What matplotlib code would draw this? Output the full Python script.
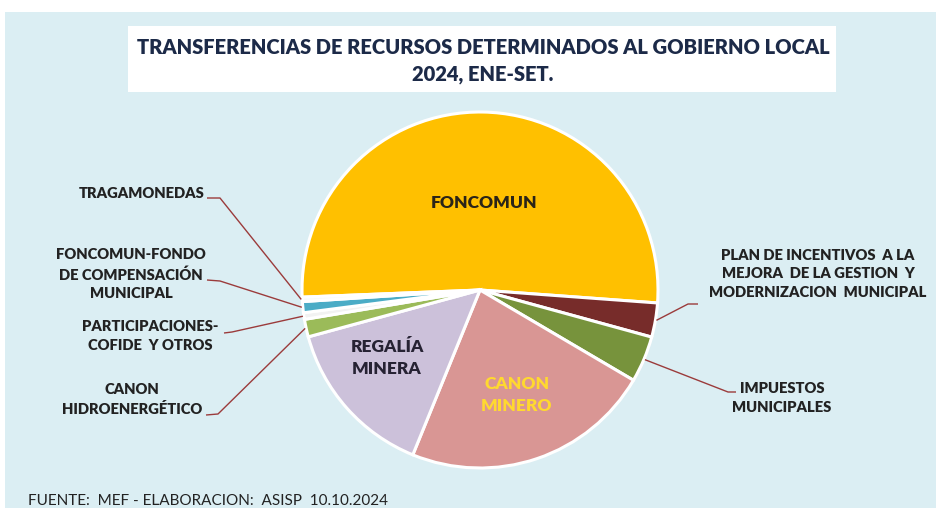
import numpy as np
import matplotlib.pyplot as plt
from matplotlib.patches import Rectangle

plt.rcParams['font.family'] = ['Lato', 'DejaVu Sans']

W, H = 936, 508

# pie data (percent of total transfers), clockwise from FONCOMUN
names = ["FONCOMUN",
         "PLAN DE INCENTIVOS  A LA\nMEJORA  DE LA GESTION  Y\nMODERNIZACION  MUNICIPAL",
         "IMPUESTOS\nMUNICIPALES",
         "CANON\nMINERO",
         "REGALÍA\nMINERA",
         "CANON\nHIDROENERGÉTICO",
         "PARTICIPACIONES-\nCOFIDE  Y OTROS",
         "FONCOMUN-FONDO\nDE COMPENSACIÓN\nMUNICIPAL",
         "TRAGAMONEDAS"]
shares = [51.8, 3.1, 4.2, 22.7, 14.6, 1.6, 0.6, 1.0, 0.4]
colors = ['#ffc000', '#772c2a', '#77933c', '#d99694', '#ccc1da',
          '#9bbb59', '#f2f2f2', '#4bacc6', '#fafafa']

fig = plt.figure(figsize=(W / 100, H / 100), dpi=100)
fig.patch.set_facecolor('white')
ax = fig.add_axes([0, 0, 1, 1])

# light blue chart area + white title box
ax.add_patch(Rectangle((5, 0), W - 5, H - 12, facecolor='#dbeef3', edgecolor='none', zorder=0))
ax.add_patch(Rectangle((128, H - 92), 708, 66, facecolor='white', edgecolor='none', zorder=1))

cx, cy, r = 480, H - 290, 178
wedges, _ = ax.pie(shares, colors=colors, startangle=182.3, counterclock=False,
                   center=(cx, cy), radius=r, frame=True,
                   wedgeprops=dict(edgecolor='white', linewidth=2.2))
for w in wedges:
    w.set_zorder(2)

ax.set_xlim(0, W)
ax.set_ylim(0, H)
ax.set_aspect('auto')
ax.axis('off')

ax.text(483, H - 47, "TRANSFERENCIAS DE RECURSOS DETERMINADOS AL GOBIERNO LOCAL",
        ha='center', va='center', fontsize=14.5, fontweight='heavy', color='#1c2a48', zorder=3)
ax.text(483, H - 75, "2024, ENE-SET.", ha='center', va='center', fontsize=14.5,
        fontweight='heavy', color='#1c2a48', zorder=3)

# labels inside the big slices
ax.text(484, H - 203, names[0], ha='center', va='center', fontsize=12.5,
        fontweight='heavy', color='#2a2418', zorder=3)
ax.text(387, H - 358, names[4], ha='center', va='center', fontsize=12.5,
        fontweight='heavy', color='#262233', linespacing=1.5, zorder=3)
ax.text(517, H - 395, names[3], ha='center', va='center', fontsize=12.5,
        fontweight='heavy', color='#ffd92f', linespacing=1.5, zorder=3)

# outside labels: index -> (text x, text y, line start, elbow)
outside = {
    8: ((142, 194), (207, 198), (220, 198)),
    7: ((131, 274), (207, 280), (220, 281)),
    6: ((150, 336), (224, 333), (232, 332)),
    5: ((132, 400), (206, 415), (218, 414)),
    1: ((818, 274), (698, 304), (688, 304)),
    2: ((782, 398), (736, 392), (728, 392)),
}
for i, (tpos, p0, p1) in outside.items():
    w = wedges[i]
    mid = np.deg2rad((w.theta1 + w.theta2) / 2)
    ex, ey = cx + (r + 1) * np.cos(mid), cy + (r + 1) * np.sin(mid)
    ax.plot([p0[0], p1[0], ex], [H - p0[1], H - p1[1], ey], color='#9b3b3b',
            lw=1, zorder=3, solid_capstyle='butt')
    ax.text(tpos[0], H - tpos[1], names[i], ha='center', va='center', fontsize=10.6,
            fontweight='heavy', color='#222222', linespacing=1.5, zorder=3)

ax.text(28, H - 494, "FUENTE:  MEF - ELABORACION:  ASISP  10.10.2024", ha='left',
        va='top', fontsize=11, color='#222222', zorder=3)

fig.savefig('out.png', dpi=100, facecolor=fig.get_facecolor())
